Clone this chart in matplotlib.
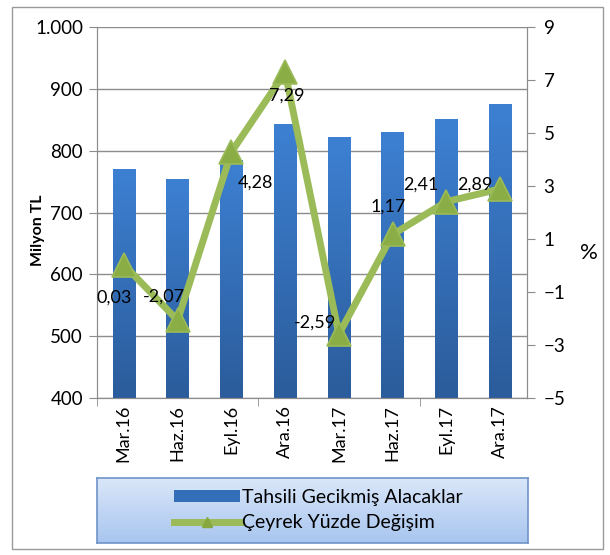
import numpy as np
import matplotlib
matplotlib.use("Agg")
import matplotlib.pyplot as plt
from matplotlib.patches import Rectangle
from matplotlib.lines import Line2D
from matplotlib.colors import LinearSegmentedColormap

plt.rcParams['font.family'] = ['Lato', 'DejaVu Sans']

quarters = ["Mar.16", "Haz.16", "Eyl.16", "Ara.16", "Mar.17", "Haz.17", "Eyl.17", "Ara.17"]
receivables = [770, 754, 785, 843, 822, 830, 851, 876]
pct_change = [0.03, -2.07, 4.28, 7.29, -2.59, 1.17, 2.41, 2.89]
bar_label = "Tahsili Gecikmiş Alacaklar"
line_label = "Çeyrek Yüzde Değişim"

# label offsets in points (dx, dy) relative to each marker
label_offsets = [(-7, -24), (-10, 17), (17, -22), (1, -17), (-17, 8), (-3, 20), (-18, 12), (-18, 3)]

fig = plt.figure(figsize=(6.10, 5.55), dpi=100)
ax = fig.add_axes([97/610, 1-398/555, 430/610, 371/555])
ax2 = ax.twinx()

x = np.arange(len(quarters))
bw = 0.42
grad = np.linspace(0, 1, 256).reshape(-1, 1)
bcmap = LinearSegmentedColormap.from_list("b", ["#2b5c9b", "#3d80d2"])
for xi, v in zip(x, receivables):
    rect = Rectangle((xi - bw/2, 400), bw, v - 400, facecolor="none", edgecolor="none")
    ax.add_patch(rect)
    im = ax.imshow(grad, extent=[xi - bw/2, xi + bw/2, 400, v], aspect="auto",
                   cmap=bcmap, origin="lower", zorder=2)
    im.set_clip_path(rect)

ax.set_xlim(-0.5, len(quarters) - 0.5)
ax.set_ylim(400, 1000)
ax.set_yticks(range(400, 1001, 100))
ax.set_yticklabels(["400", "500", "600", "700", "800", "900", "1.000"])
ax.yaxis.grid(True, color="#8c8c8c", lw=1)
ax.set_axisbelow(True)
ax.set_xticks(x)
ax.set_xticklabels(quarters, rotation=90, fontsize=13)
ax.tick_params(axis="x", length=0, pad=5)
ax.set_xticks([-0.5, 2.5, 5.5], minor=True)
ax.tick_params(axis="x", which="minor", length=6, color="#8c8c8c")
ax.tick_params(axis="y", labelsize=13.5, length=6, color="#8c8c8c", pad=4)
for s in ax.spines.values():
    s.set_color("#8c8c8c")
ax.spines["top"].set_visible(False)
ax.set_ylabel("Milyon TL", fontsize=11.5, fontweight="bold")
ax.yaxis.set_label_coords(-0.121, 0.453)

ax2.plot(x, pct_change, color="#9bbb59", lw=5, marker="^", markersize=17,
         markerfacecolor="#8aad45", markeredgecolor="#9bbb59", markeredgewidth=1.2,
         solid_joinstyle="miter", zorder=3)
ax2.set_ylim(-5, 9)
ax2.set_yticks(range(-5, 10, 2))
ax2.tick_params(axis="y", labelsize=13.5, length=6, color="#8c8c8c", pad=6)
for s in ax2.spines.values():
    s.set_color("#8c8c8c")
ax2.spines["top"].set_visible(False)
ax2.set_ylabel("%", fontsize=16, rotation=0, va="center", ha="center")
ax2.yaxis.set_label_coords(1.145, 0.39)

for xi, v, (dx, dy) in zip(x, pct_change, label_offsets):
    ax2.annotate(f"{v:.2f}".replace(".", ","), (xi, v), xytext=(dx, dy),
                 textcoords="offset points", ha="center", va="center", fontsize=13, zorder=5)

# legend background
lax = fig.add_axes([97/610, 1-543/555, 431/610, 65/555])
lgrad = np.linspace(0, 1, 256).reshape(-1, 1)
lcmap = LinearSegmentedColormap.from_list("l", ["#dae7f9", "#a8c5ef"])
lax.imshow(lgrad, aspect="auto", cmap=lcmap, extent=[0, 1, 1, 0])
lax.set_xticks([]); lax.set_yticks([])
for s in lax.spines.values():
    s.set_color("#6f93c8"); s.set_linewidth(1.2)

handles = [Rectangle((0, 0), 1, 1, facecolor="#336fb8", edgecolor="none"),
           Line2D([0], [0], color="#9bbb59", lw=5, marker="^", markersize=7,
                  markerfacecolor="#86a83f", markeredgecolor="#86a83f")]
fig.legend(handles, [bar_label, line_label], loc="center",
           bbox_to_anchor=(318/610, 1-510/555), frameon=False, fontsize=14,
           handlelength=3.4, handleheight=0.6, handletextpad=0.1, labelspacing=0.45)

fig.add_artist(Rectangle((12/610, 1-549/555), 591/610, 542/555, transform=fig.transFigure,
                         facecolor="none", edgecolor="#9a9a9a", lw=1))

fig.savefig("out.png", dpi=100)
